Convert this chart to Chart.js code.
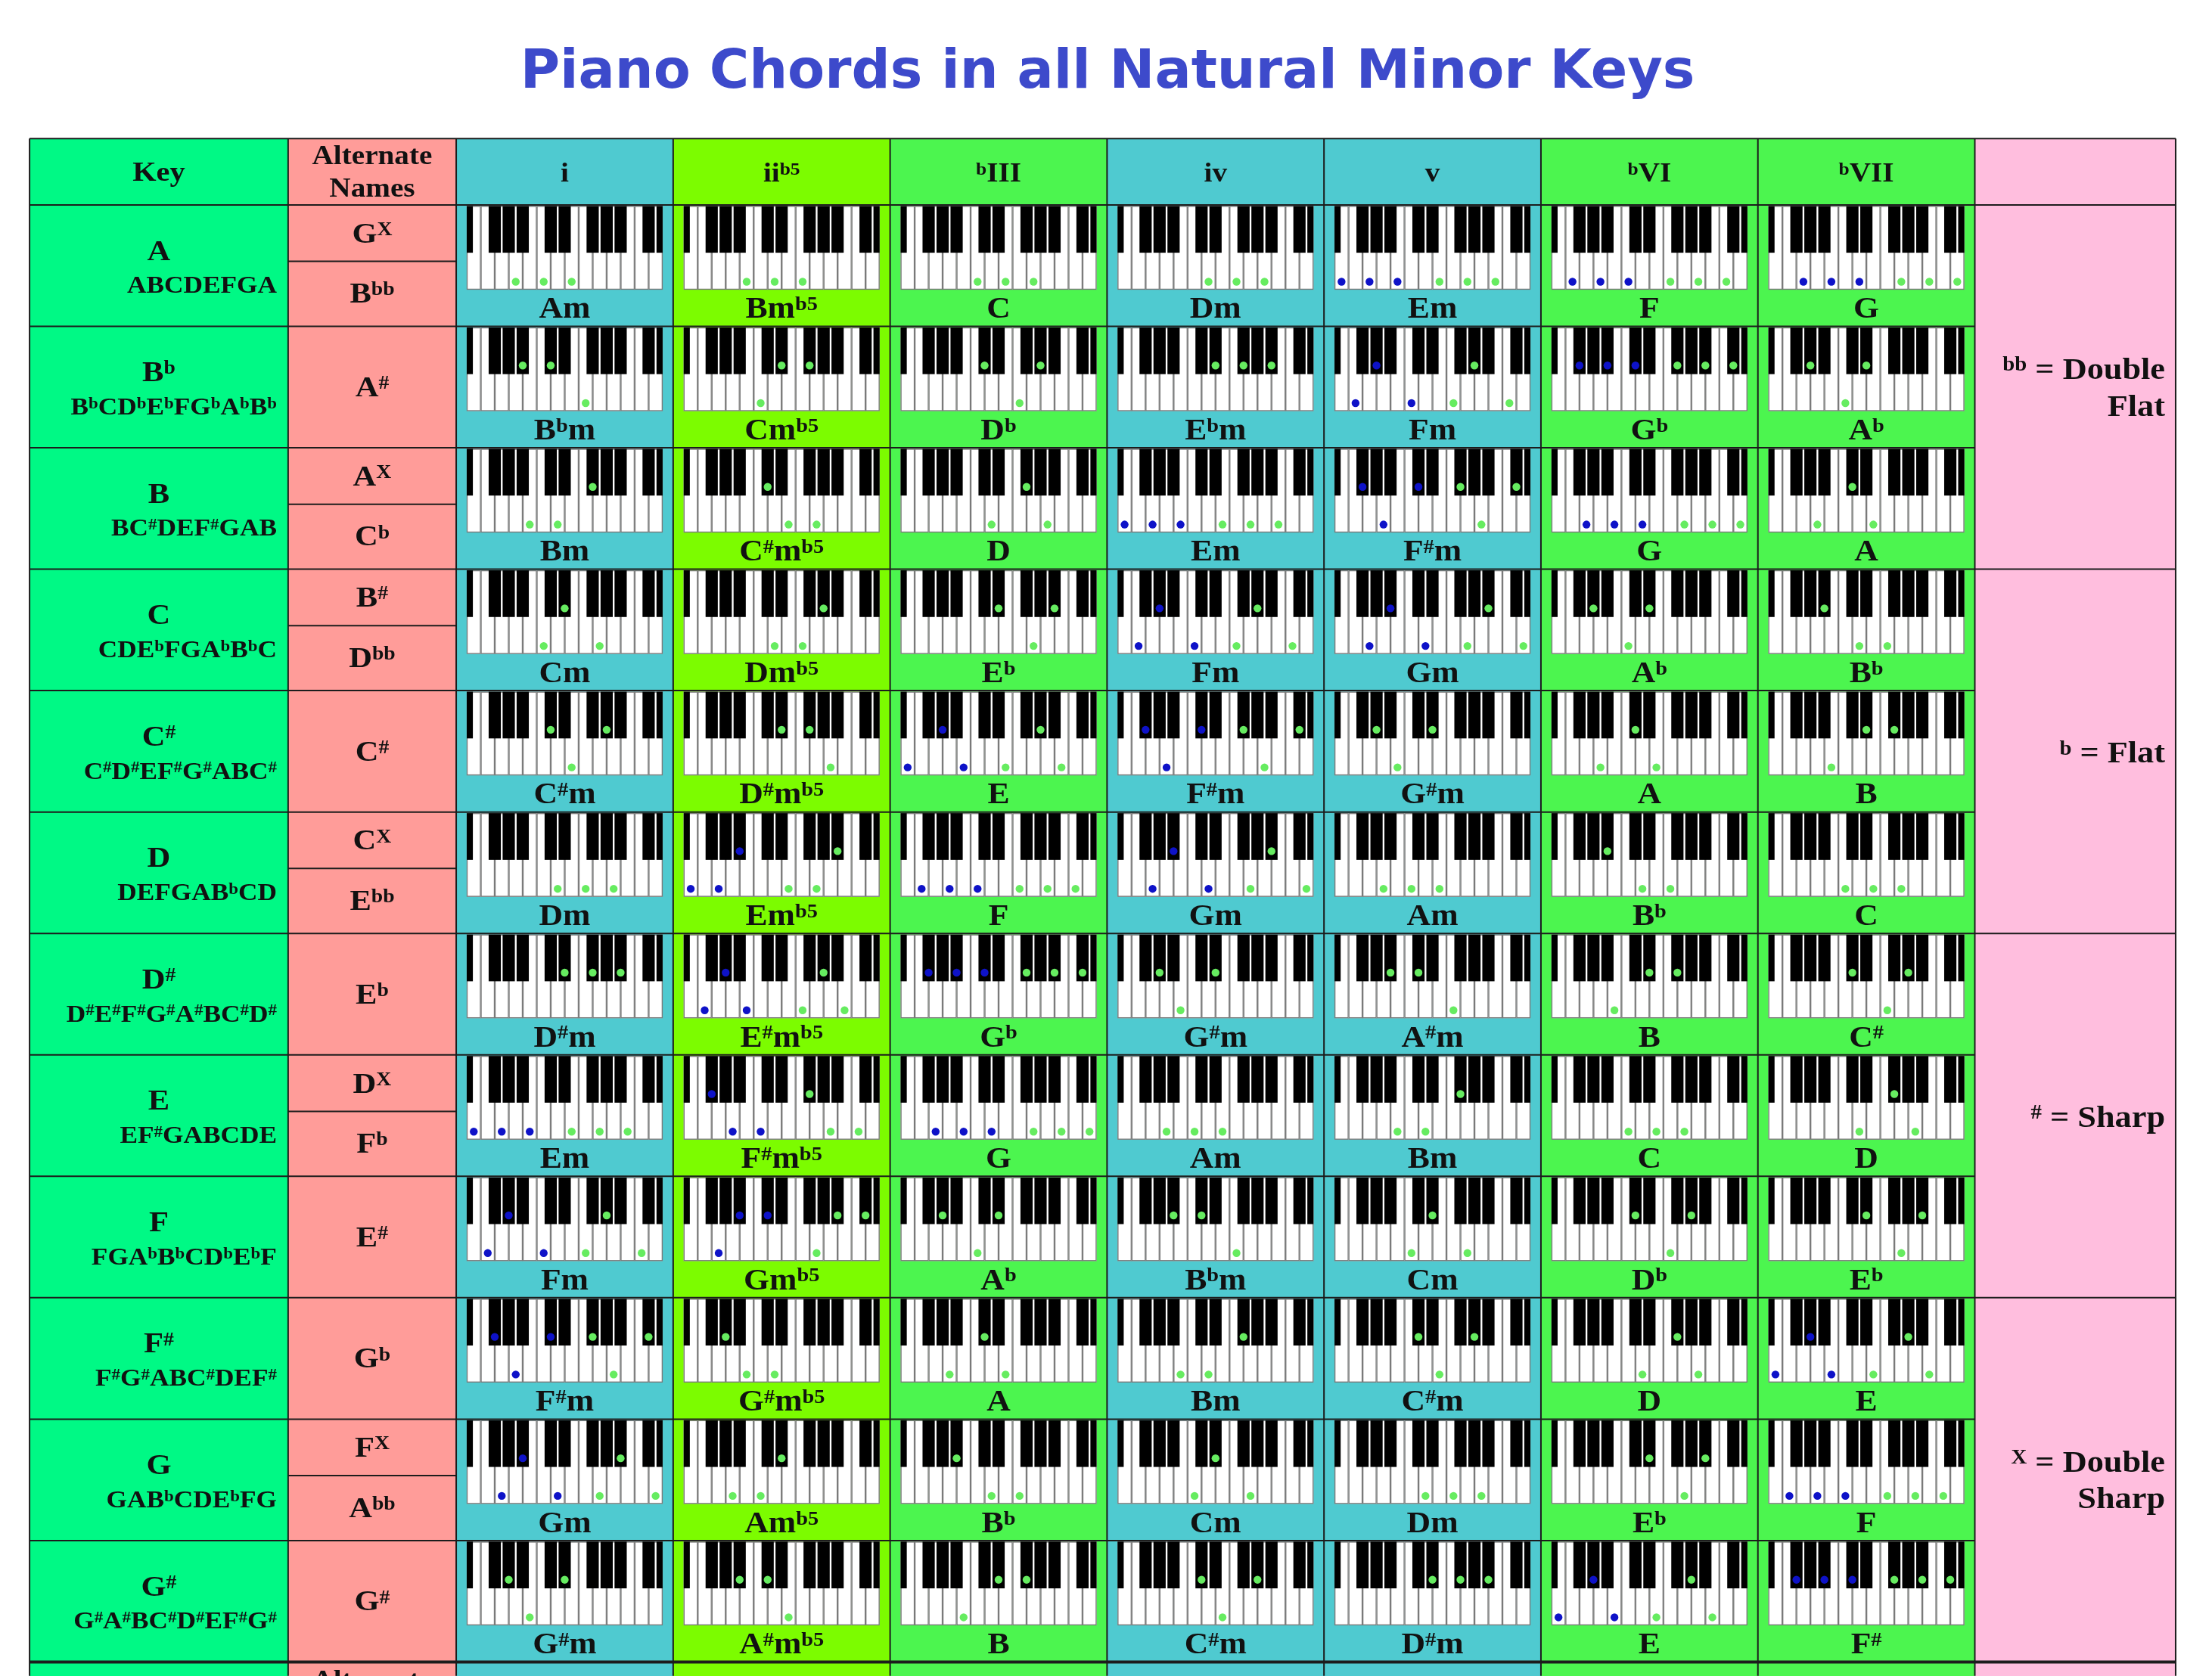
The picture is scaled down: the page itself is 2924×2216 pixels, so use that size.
<!DOCTYPE html>
<html><head><meta charset="utf-8">
<script src="https://cdn.jsdelivr.net/npm/chart.js@4.4.1/dist/chart.umd.min.js"></script>
<style>html,body{margin:0;padding:0;background:#fff;overflow:hidden}canvas{display:block}</style>
</head><body>
<canvas id="c" width="2924" height="2216" style="width:2924px;height:2216px"></canvas>
<script>
// ---------------- DATA ----------------
const titleText = 'Piano Chords in all Natural Minor Keys';
const headerKey = 'Key';
const headerAlt = ['Alternate', 'Names'];
const degreeLabels = ['i', 'ii^{b5}', '^{b}III', 'iv', 'v', '^{b}VI', '^{b}VII'];
const keyNames = ['A', 'B^{b}', 'B', 'C', 'C^{#}', 'D', 'D^{#}', 'E', 'F', 'F^{#}', 'G', 'G^{#}'];
const keyScales = ['ABCDEFGA', 'B^{b}CD^{b}E^{b}FG^{b}A^{b}B^{b}', 'BC^{#}DEF^{#}GAB', 'CDE^{b}FGA^{b}B^{b}C',
  'C^{#}D^{#}EF^{#}G^{#}ABC^{#}', 'DEFGAB^{b}CD', 'D^{#}E^{#}F^{#}G^{#}A^{#}BC^{#}D^{#}', 'EF^{#}GABCDE',
  'FGA^{b}B^{b}CD^{b}E^{b}F', 'F^{#}G^{#}ABC^{#}DEF^{#}', 'GAB^{b}CDE^{b}FG', 'G^{#}A^{#}BC^{#}D^{#}EF^{#}G^{#}'];
const altNames = [['G^{X}', 'B^{bb}'], ['A^{#}'], ['A^{X}', 'C^{b}'], ['B^{#}', 'D^{bb}'], ['C^{#}'], ['C^{X}', 'E^{bb}'],
  ['E^{b}'], ['D^{X}', 'F^{b}'], ['E^{#}'], ['G^{b}'], ['F^{X}', 'A^{bb}'], ['G^{#}']];
const chordNames = [
  ['Am', 'Bm^{b5}', 'C', 'Dm', 'Em', 'F', 'G'],
  ['B^{b}m', 'Cm^{b5}', 'D^{b}', 'E^{b}m', 'Fm', 'G^{b}', 'A^{b}'],
  ['Bm', 'C^{#}m^{b5}', 'D', 'Em', 'F^{#}m', 'G', 'A'],
  ['Cm', 'Dm^{b5}', 'E^{b}', 'Fm', 'Gm', 'A^{b}', 'B^{b}'],
  ['C^{#}m', 'D^{#}m^{b5}', 'E', 'F^{#}m', 'G^{#}m', 'A', 'B'],
  ['Dm', 'Em^{b5}', 'F', 'Gm', 'Am', 'B^{b}', 'C'],
  ['D^{#}m', 'E^{#}m^{b5}', 'G^{b}', 'G^{#}m', 'A^{#}m', 'B', 'C^{#}'],
  ['Em', 'F^{#}m^{b5}', 'G', 'Am', 'Bm', 'C', 'D'],
  ['Fm', 'Gm^{b5}', 'A^{b}', 'B^{b}m', 'Cm', 'D^{b}', 'E^{b}'],
  ['F^{#}m', 'G^{#}m^{b5}', 'A', 'Bm', 'C^{#}m', 'D', 'E'],
  ['Gm', 'Am^{b5}', 'B^{b}', 'Cm', 'Dm', 'E^{b}', 'F'],
  ['G^{#}m', 'A^{#}m^{b5}', 'B', 'C^{#}m', 'D^{#}m', 'E', 'F^{#}']
];
// key numbers on the drawn keyboard: 0 = E (leftmost white key), 1 = F, 2 = F#, ... 22 = D
const greenNotes = [
  [[5,8,12],[7,10,13],[8,12,15],[10,13,17],[12,15,19],[13,17,20],[15,19,22]],
  [[6,9,13],[8,11,14],[9,13,16],[11,14,18],[13,16,20],[14,18,21],[4,8,11]],
  [[7,10,14],[9,12,15],[10,14,17],[12,15,19],[14,17,21],[15,19,22],[5,9,12]],
  [[8,11,15],[10,13,16],[11,15,18],[13,16,20],[15,18,22],[4,8,11],[6,10,13]],
  [[9,12,16],[11,14,17],[12,16,19],[14,17,21],[4,7,11],[5,9,12],[7,11,14]],
  [[10,13,17],[12,15,18],[13,17,20],[15,18,22],[5,8,12],[6,10,13],[8,12,15]],
  [[11,14,18],[13,16,19],[14,18,21],[4,7,11],[6,9,13],[7,11,14],[9,13,16]],
  [[12,15,19],[14,17,20],[15,19,22],[5,8,12],[7,10,14],[8,12,15],[10,14,17]],
  [[13,16,20],[15,18,21],[4,8,11],[6,9,13],[8,11,15],[9,13,16],[11,15,18]],
  [[14,17,21],[4,7,10],[5,9,12],[7,10,14],[9,12,16],[10,14,17],[12,16,19]],
  [[15,18,22],[5,8,11],[6,10,13],[8,11,15],[10,13,17],[11,15,18],[13,17,20]],
  [[4,7,11],[6,9,12],[7,11,14],[9,12,16],[11,14,18],[12,16,19],[14,18,21]]
];
const blueNotes = [
  [[],[],[],[],[0,3,7],[1,5,8],[3,7,10]],
  [[],[],[],[],[1,4,8],[2,6,9],[]],
  [[],[],[],[0,3,7],[2,5,9],[3,7,10],[]],
  [[],[],[],[1,4,8],[3,6,10],[],[]],
  [[],[],[0,4,7],[2,5,9],[],[],[]],
  [[],[0,3,6],[1,5,8],[3,6,10],[],[],[]],
  [[],[1,4,7],[2,6,9],[],[],[],[]],
  [[0,3,7],[2,5,8],[3,7,10],[],[],[],[]],
  [[1,4,8],[3,6,9],[],[],[],[],[]],
  [[2,5,9],[],[],[],[],[],[0,4,7]],
  [[3,6,10],[],[],[],[],[],[1,5,8]],
  [[],[],[],[],[],[0,4,7],[2,6,9]]
];
const legendRows = [[0, 3], [3, 6], [6, 9], [9, 12]];
const legendLabels = [['^{bb} = Double', 'Flat'], ['^{b} = Flat'], ['^{#} = Sharp'], ['^{X} = Double', 'Sharp']];

// ---------------- LAYOUT / STYLE ----------------
const W = 2924, H = 2216;
const L = {
  left: 34, keyRight: 377, altRight: 600, chordW: 287.8, right: 2881,
  top: 179, headBottom: 267, rowH: 161.3,
  kbMargin: 14, blackH: 62, whiteH: 111, whiteDotY: 102, blackDotY: 52, blackW: 16.2
};
const C = {
  key: '#00F985', alt: '#FF9C99', legend: '#FFBEDE',
  chord: ['#4FCAD0', '#7CFC00', '#4CF54F', '#4FCAD0', '#4FCAD0', '#4CF54F', '#4CF54F'],
  line: '#1c1c1c', title: '#3D4ACB', blue: '#0E12C8', green: '#66EC60'
};
const SERIF = 'Liberation Serif';
const WHITE_POS = {0:0, 1:1, 3:2, 5:3, 7:4, 8:5, 10:6};
const BLACK_POS = {2:2, 4:3, 6:4, 9:6, 11:7};
const BLACK_BOUNDS = [0, 2, 3, 4, 6, 7, 9, 10, 11, 13, 14];

function chordLeft(c) { return L.altRight + c * L.chordW; }
function rowTop(r) { return L.headBottom + r * L.rowH; }
function kbLeft(c) { return chordLeft(c) + L.kbMargin; }
function whiteW() { return (L.chordW - 2 * L.kbMargin) / 14; }
function noteX(c, n) {
  const oct = Math.floor(n / 12), m = n % 12, ww = whiteW();
  if (m in WHITE_POS) return kbLeft(c) + (WHITE_POS[m] + 7 * oct + 0.5) * ww;
  return kbLeft(c) + (BLACK_POS[m] + 7 * oct) * ww;
}
function noteY(r, n) { return rowTop(r) + ((n % 12) in WHITE_POS ? L.whiteDotY : L.blackDotY); }

function buildPoints(notes) {
  const pts = [];
  notes.forEach((row, r) => row.forEach((cell, c) => cell.forEach(n => pts.push({x: noteX(c, n), y: noteY(r, n)}))));
  return pts;
}

// ---------------- RICH TEXT ----------------
function parseRich(s) {
  const segs = []; let i = 0;
  while (i < s.length) {
    if (s[i] === '^' && s[i + 1] === '{') { const j = s.indexOf('}', i); segs.push({t: s.slice(i + 2, j), sup: true}); i = j + 1; }
    else { let j = i; while (j < s.length && s[j] !== '^') j++; segs.push({t: s.slice(i, j), sup: false}); i = j; }
  }
  return segs;
}
function drawRich(ctx, s, x, y, size, align, sx) {
  sx = sx || 1.12;
  const segs = parseRich(s); let w = 0;
  const sup = 0.65;
  segs.forEach(g => { ctx.font = 'bold ' + (g.sup ? size * sup : size) + 'px "' + SERIF + '"'; g.w = ctx.measureText(g.t).width; w += g.w; });
  const tot = w * sx;
  const x0 = align === 'center' ? x - tot / 2 : (align === 'right' ? x - tot : x);
  ctx.save(); ctx.translate(x0, y); ctx.scale(sx, 1);
  ctx.textAlign = 'left'; ctx.textBaseline = 'alphabetic'; ctx.fillStyle = '#111';
  let cx = 0;
  segs.forEach(g => { ctx.font = 'bold ' + (g.sup ? size * sup : size) + 'px "' + SERIF + '"'; ctx.fillText(g.t, cx, g.sup ? -size * 0.26 : 0); cx += g.w; });
  ctx.restore();
}

// ---------------- TABLE PLUGIN ----------------
const tablePlugin = {
  id: 'pianoTable',
  beforeDatasetsDraw(chart) {
    const ctx = chart.ctx, xs = chart.scales.x, ys = chart.scales.y;
    const X = v => xs.getPixelForValue(v), Y = v => ys.getPixelForValue(v);
    const rect = (x1, y1, x2, y2, fill) => { ctx.fillStyle = fill; ctx.fillRect(X(x1), Y(y1), X(x2) - X(x1), Y(y2) - Y(y1)); };
    const nRows = keyNames.length;
    const tableBottom = rowTop(nRows);
    ctx.save();
    // title
    ctx.fillStyle = C.title; ctx.font = 'bold 71.5px "DejaVu Sans"'; ctx.textAlign = 'center'; ctx.textBaseline = 'alphabetic';
    ctx.fillText(titleText, X(1464), Y(111));
    // backgrounds: header, body, repeated header strip at bottom
    const bands = [[L.top, L.headBottom], [L.headBottom, tableBottom], [tableBottom, H + 20]];
    bands.forEach(([a, b]) => {
      rect(L.left, a, L.keyRight, b, C.key);
      rect(L.keyRight, a, L.altRight, b, C.alt);
      for (let c = 0; c < 7; c++) rect(chordLeft(c), a, chordLeft(c + 1), b, C.chord[c]);
      rect(chordLeft(7), a, L.right, b, C.legend);
    });
    // keyboards
    const ww = whiteW();
    for (let r = 0; r < nRows; r++) {
      const t = rowTop(r) + 1.5;
      for (let c = 0; c < 7; c++) {
        const kl = kbLeft(c), kr = kl + 14 * ww;
        for (let k = 0; k < 14; k++) {
          const x1 = X(kl + k * ww), x2 = X(kl + (k + 1) * ww);
          ctx.fillStyle = '#ffffff'; ctx.fillRect(x1, Y(t), x2 - x1, Y(t + L.whiteH) - Y(t));
          ctx.strokeStyle = '#7a7a7a'; ctx.lineWidth = 1.4;
          ctx.strokeRect(x1 + 0.5, Y(t) + 0.5, x2 - x1 - 1, Y(t + L.whiteH) - Y(t) - 1);
        }
        ctx.fillStyle = '#000000';
        BLACK_BOUNDS.forEach(b => {
          const cx = kl + b * ww;
          const a1 = Math.max(kl, cx - L.blackW / 2), a2 = Math.min(kr, cx + L.blackW / 2);
          ctx.fillRect(X(a1), Y(t), X(a2) - X(a1), Y(t + L.blackH) - Y(t));
        });
      }
    }
    // header texts
    drawRich(ctx, headerKey, X((L.left + L.keyRight) / 2), Y(235), 36, 'center');
    drawRich(ctx, headerAlt[0], X((L.keyRight + L.altRight) / 2), Y(213), 35, 'center');
    drawRich(ctx, headerAlt[1], X((L.keyRight + L.altRight) / 2), Y(256), 35, 'center');
    degreeLabels.forEach((d, c) => drawRich(ctx, d, X(chordLeft(c) + L.chordW / 2), Y(236), 35, 'center'));
    // repeated header at the bottom (cut off by the page edge)
    drawRich(ctx, headerAlt[0], X((L.keyRight + L.altRight) / 2), Y(tableBottom + 36), 35, 'center');
    // rows
    for (let r = 0; r < nRows; r++) {
      const t = rowTop(r);
      drawRich(ctx, keyNames[r], X((L.left + L.keyRight) / 2), Y(t + 73), 38, 'center');
      drawRich(ctx, keyScales[r], X(L.keyRight - 15), Y(t + 117), 31.5, 'right');
      const alt = altNames[r], ax = X((L.keyRight + L.altRight) / 2);
      if (alt.length === 2) {
        drawRich(ctx, alt[0], ax, Y(t + 50), 38, 'center');
        drawRich(ctx, alt[1], ax, Y(t + 130), 38, 'center');
      } else {
        drawRich(ctx, alt[0], ax, Y(t + 93), 38, 'center');
      }
      chordNames[r].forEach((nm, c) => drawRich(ctx, nm, X(chordLeft(c) + L.chordW / 2), Y(t + 150), 39, 'center'));
    }
    // legend
    legendRows.forEach(([a, b], i) => {
      const mid = (rowTop(a) + rowTop(b)) / 2;
      const lines = legendLabels[i];
      if (lines.length === 2) {
        drawRich(ctx, lines[0], X(2867), Y(mid - 11), 41, 'right', 1.08);
        drawRich(ctx, lines[1], X(2867), Y(mid + 38), 41, 'right', 1.08);
      } else {
        drawRich(ctx, lines[0], X(2867), Y(mid + 15), 41, 'right', 1.08);
      }
    });
    // grid lines
    ctx.strokeStyle = C.line;
    const hline = (x1, x2, y, lw) => { ctx.lineWidth = lw || 2; ctx.beginPath(); ctx.moveTo(X(x1), Y(y)); ctx.lineTo(X(x2), Y(y)); ctx.stroke(); };
    const vline = (x, y1, y2) => { ctx.lineWidth = 2; ctx.beginPath(); ctx.moveTo(X(x), Y(y1)); ctx.lineTo(X(x), Y(y2)); ctx.stroke(); };
    hline(L.left, L.right, L.top);
    hline(L.left, L.right, L.headBottom);
    const groupEnds = legendRows.map(g => g[1]);
    for (let r = 1; r < nRows; r++) hline(L.left, groupEnds.includes(r) ? L.right : chordLeft(7), rowTop(r));
    hline(L.left, L.right, tableBottom, 4);
    altNames.forEach((a, r) => { if (a.length === 2) hline(L.keyRight, L.altRight, rowTop(r) + 75); });
    const vx = [L.left, L.keyRight, L.altRight];
    for (let c = 1; c <= 7; c++) vx.push(chordLeft(c));
    vx.push(L.right);
    vx.forEach(x => vline(x, L.top, H + 5));
    ctx.restore();
  }
};

new Chart(document.getElementById('c'), {
  type: 'scatter',
  data: {
    datasets: [
      {label: 'lower octave', data: buildPoints(blueNotes), backgroundColor: C.blue, borderWidth: 0, pointRadius: 5.2, pointHoverRadius: 5.2},
      {label: 'chord', data: buildPoints(greenNotes), backgroundColor: C.green, borderWidth: 0, pointRadius: 5.2, pointHoverRadius: 5.2}
    ]
  },
  options: {
    responsive: false, animation: false, devicePixelRatio: 1,
    layout: {padding: 0},
    events: [],
    plugins: {legend: {display: false}, tooltip: {enabled: false}, title: {display: false}},
    scales: {
      x: {type: 'linear', min: 0, max: W, display: false},
      y: {type: 'linear', min: 0, max: H, reverse: true, display: false}
    }
  },
  plugins: [tablePlugin]
});
</script>
</body></html>
